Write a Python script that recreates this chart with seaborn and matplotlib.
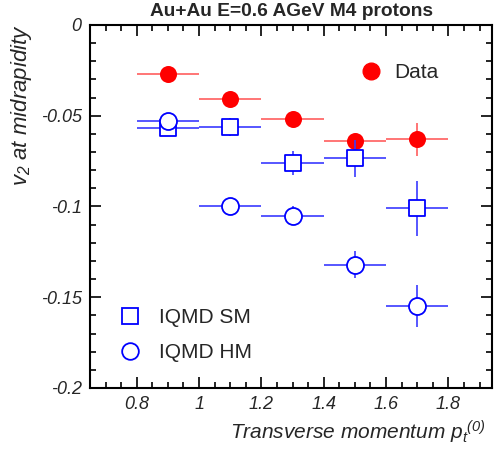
import matplotlib
matplotlib.use("Agg")
import matplotlib.pyplot as plt
from matplotlib.lines import Line2D
from matplotlib.ticker import MultipleLocator, FixedLocator, FixedFormatter
import seaborn as sns
import pandas as pd
import numpy as np

# ---- data ----
pt = [0.9, 1.1, 1.3, 1.5, 1.7]
pt_err = [0.1, 0.1, 0.1, 0.1, 0.1]

data_v2 = [-0.027, -0.041, -0.052, -0.064, -0.063]
data_err = [0.0, 0.0, 0.0, 0.004, 0.009]

sm_v2 = [-0.057, -0.056, -0.076, -0.0735, -0.101]
sm_err = [0.004, 0.005, 0.0067, 0.010, 0.015]

hm_v2 = [-0.053, -0.0995, -0.105, -0.132, -0.155]
hm_err = [0.001, 0.001, 0.005, 0.0076, 0.0115]

xticks = [0.8, 1.0, 1.2, 1.4, 1.6, 1.8]
xticklabels = ["0.8", "1", "1.2", "1.4", "1.6", "1.8"]
yticks = [0.0, -0.05, -0.1, -0.15, -0.2]
yticklabels = ["0", "-0.05", "-0.1", "-0.15", "-0.2"]

title = "Au+Au E=0.6 AGeV M4 protons"
xlabel = r"Transverse momentum $p_t$$^{(0)}$"
ylabel = r"$v_2$ at midrapidity"

sns.set_style("ticks")
plt.rcParams['font.family'] = ['Liberation Sans', 'DejaVu Sans']
plt.rcParams['mathtext.fontset'] = 'custom'
plt.rcParams['mathtext.it'] = 'Liberation Sans:italic'
plt.rcParams['mathtext.rm'] = 'Liberation Sans:italic'

RED = "#ff0000"
RED_ERR = "#ff6a6a"
BLUE = "#0000ff"
BLUE_ERR = "#3a3aff"

fig = plt.figure(figsize=(5.01, 4.55), dpi=100)
ax = fig.add_axes([90/501, 1-388/455, (492-90)/501, (388-25)/455])

df_data = pd.DataFrame({"pt": pt, "v2": data_v2})
df_sm = pd.DataFrame({"pt": pt, "v2": sm_v2})
df_hm = pd.DataFrame({"pt": pt, "v2": hm_v2})

# Data
ax.errorbar(pt, data_v2, xerr=pt_err, yerr=data_err, fmt='none',
            ecolor=RED_ERR, elinewidth=1.3, capsize=0, zorder=2)
sns.scatterplot(data=df_data, x="pt", y="v2", ax=ax, marker='o', s=150,
                color=RED, edgecolor=RED, linewidth=0, zorder=3, legend=False)
# SM
ax.errorbar(pt, sm_v2, xerr=pt_err, yerr=sm_err, fmt='none',
            ecolor=BLUE_ERR, elinewidth=1.2, capsize=0, zorder=4)
sns.scatterplot(data=df_sm, x="pt", y="v2", ax=ax, marker='s', s=120,
                facecolor='white', edgecolor=BLUE, linewidth=1.3, zorder=5, legend=False)
# HM
ax.errorbar(pt, hm_v2, xerr=pt_err, yerr=hm_err, fmt='none',
            ecolor=BLUE_ERR, elinewidth=1.2, capsize=0, zorder=6)
sns.scatterplot(data=df_hm, x="pt", y="v2", ax=ax, marker='o', s=150,
                facecolor='white', edgecolor=BLUE, linewidth=1.3, zorder=7, legend=False)

ax.set_xlim(0.65, 1.94)
ax.set_ylim(-0.2, 0.0)
ax.xaxis.set_major_locator(FixedLocator(xticks))
ax.xaxis.set_major_formatter(FixedFormatter(xticklabels))
ax.xaxis.set_minor_locator(MultipleLocator(0.05))
ax.yaxis.set_major_locator(FixedLocator(yticks))
ax.yaxis.set_major_formatter(FixedFormatter(yticklabels))
ax.yaxis.set_minor_locator(MultipleLocator(0.01))
ax.tick_params(which='both', direction='in', top=True, right=True,
               color='black', width=1.2)
ax.tick_params(which='major', length=8, labelsize=13, pad=6)
ax.tick_params(which='minor', length=4.5)
for lab in ax.get_xticklabels() + ax.get_yticklabels():
    lab.set_fontstyle('italic')
for sp in ax.spines.values():
    sp.set_linewidth(1.5)
    sp.set_color('black')
ax.set_xlabel("")
ax.set_ylabel("")

fig.text(292/501, 1-12/455, title, ha='center', va='center',
         fontsize=13.8, fontweight='bold')
fig.text(22/501, 1-24/455, ylabel, rotation=90, ha='center', va='top',
         fontsize=16, fontstyle='italic')
fig.text(486/501, 1-439/455, xlabel, ha='right', va='baseline',
         fontsize=15, fontstyle='italic')

h_data = Line2D([], [], marker='o', linestyle='none', markersize=12,
                markerfacecolor=RED, markeredgecolor=RED)
h_sm = Line2D([], [], marker='s', linestyle='none', markersize=11,
              markerfacecolor='white', markeredgecolor=BLUE, markeredgewidth=1.3)
h_hm = Line2D([], [], marker='o', linestyle='none', markersize=12,
              markerfacecolor='white', markeredgecolor=BLUE, markeredgewidth=1.3)

leg1 = ax.legend([h_data], ["Data"], loc='center left',
                 bbox_to_anchor=((358-90)/402, 1-(73-25)/363), frameon=False,
                 fontsize=15, handlelength=1.2, handletextpad=0.55, borderpad=0,
                 borderaxespad=0)
ax.add_artist(leg1)
ax.legend([h_sm, h_hm], ["IQMD SM", "IQMD HM"], loc='center left',
          bbox_to_anchor=((117-90)/402, 1-(335-25)/363), frameon=False,
          fontsize=15, handlelength=1.2, handletextpad=0.8, borderpad=0,
          borderaxespad=0, labelspacing=0.75)

fig.savefig("out.png", dpi=100)
